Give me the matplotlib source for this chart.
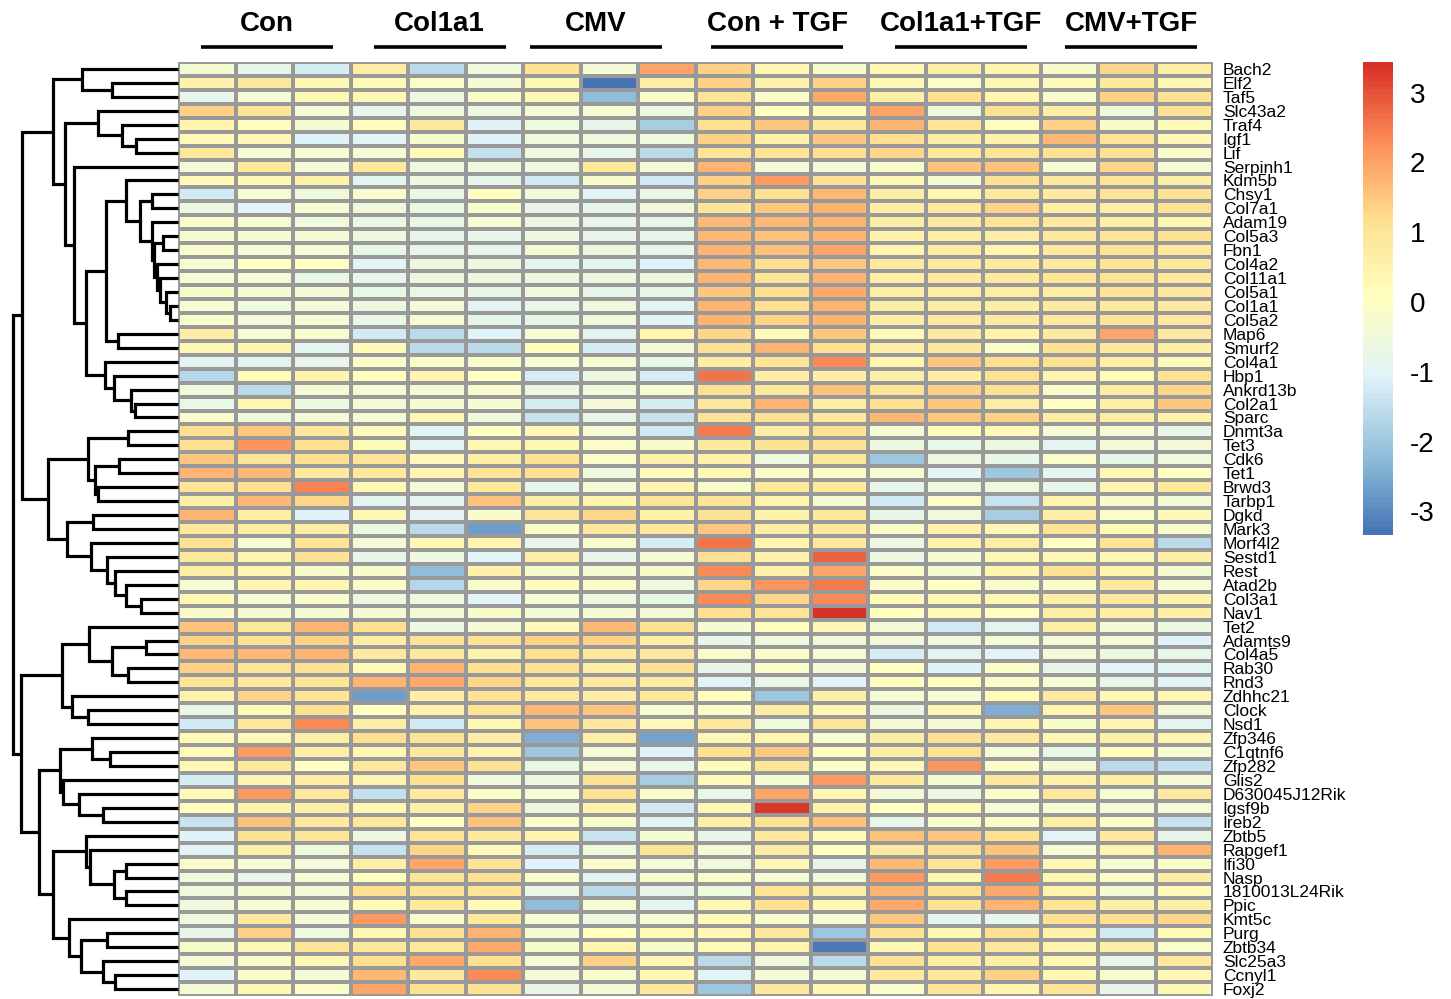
import numpy as np
import matplotlib
matplotlib.use("Agg")
import matplotlib.pyplot as plt
from matplotlib.colors import LinearSegmentedColormap

plt.rcParams['font.family'] = ['Liberation Sans', 'DejaVu Sans']
plt.rcParams['axes.unicode_minus'] = False

genes = ["Bach2", "Elf2", "Taf5", "Slc43a2", "Traf4", "Igf1", "Lif", "Serpinh1",
         "Kdm5b", "Chsy1", "Col7a1", "Adam19", "Col5a3", "Fbn1", "Col4a2", "Col11a1",
         "Col5a1", "Col1a1", "Col5a2", "Map6", "Smurf2", "Col4a1", "Hbp1", "Ankrd13b",
         "Col2a1", "Sparc", "Dnmt3a", "Tet3", "Cdk6", "Tet1", "Brwd3", "Tarbp1",
         "Dgkd", "Mark3", "Morf4l2", "Sestd1", "Rest", "Atad2b", "Col3a1", "Nav1",
         "Tet2", "Adamts9", "Col4a5", "Rab30", "Rnd3", "Zdhhc21", "Clock", "Nsd1",
         "Zfp346", "C1qtnf6", "Zfp282", "Glis2", "D630045J12Rik", "Igsf9b", "Ireb2",
         "Zbtb5", "Rapgef1", "Ifi30", "Nasp", "1810013L24Rik", "Ppic", "Kmt5c",
         "Purg", "Zbtb34", "Slc25a3", "Ccnyl1", "Foxj2"]

groups = ["Con", "Col1a1", "CMV", "Con + TGF", "Col1a1+TGF", "CMV+TGF"]

# row z-scores, three replicates per group, rows in the order of genes
con = [
    [-0.3, -0.8, -1.2], [0.5, 0.9, 0.3], [-0.8, -0.3, 0.3], [1.4, 1.0, -0.3],
    [0.4, 0.1, -0.3], [0.2, 0.3, -1.1], [0.9, -0.3, -0.3], [-0.4, 0.9, -0.4],
    [0.2, 0.3, 0.5], [-1.3, -0.3, -0.5], [-0.6, -1.0, -0.3], [-0.2, -0.3, -0.5],
    [-0.3, -0.3, -0.4], [-0.2, -0.3, -0.3], [-0.3, 0.0, 0.0], [-0.3, -0.3, -0.7],
    [-0.2, -0.4, -0.4], [-0.3, -0.5, -0.4], [-0.2, -0.4, -0.3], [0.7, -0.3, -0.2],
    [0.3, 0.4, -0.9], [-0.9, -0.9, -0.8], [-1.7, 0.2, 0.5], [-0.5, -1.6, -0.4],
    [-0.7, 0.3, -0.6], [-0.2, -0.5, -0.4], [1.2, 1.5, 0.8], [1.2, 2.2, 1.2],
    [1.5, 1.0, 1.2], [1.8, 1.7, 0.8], [1.0, 1.2, 2.4], [0.6, 1.7, 1.3],
    [1.8, 0.7, -1.1], [0.8, 0.7, 0.7], [1.1, -0.3, 1.0], [0.9, 0.4, 1.1],
    [0.6, 0.3, -0.2], [-0.3, 0.4, 0.4], [0.3, -0.3, -0.2], [-0.2, -0.3, -0.3],
    [1.6, 0.9, 1.8], [1.4, 1.1, 1.4], [1.7, 1.7, 1.8], [1.4, 1.0, 1.1],
    [1.0, 0.8, 1.0], [0.5, 1.3, 1.0], [-0.7, 0.2, 1.2], [-1.3, 0.9, 2.3],
    [0.2, 0.3, 0.6], [0.2, 2.1, 0.6], [0.3, 0.9, 0.0], [-1.2, 0.4, 0.7],
    [0.2, 2.1, 0.9], [0.1, 0.5, 0.6], [-1.4, 1.6, 0.8], [-1.1, 1.1, 1.0],
    [-1.0, 0.6, -0.5], [-0.2, -0.3, -0.4], [-0.5, -0.8, -0.3], [-0.5, -0.3, -0.4],
    [-0.5, -0.3, -0.3], [-0.5, 0.8, -0.4], [-0.8, 1.4, -0.5], [-0.2, 0.3, 1.0],
    [-0.4, -0.2, 0.3], [-1.1, -0.1, -0.4], [-0.3, 0.3, -0.1]]
col1a1 = [
    [0.7, -1.6, -0.5], [0.2, -0.1, -0.3], [0.3, -0.6, -0.1], [-0.8, -0.5, -0.6],
    [0.1, 0.8, -1.1], [-1.0, -0.2, -1.1], [-0.3, 0.2, -1.5], [0.9, -0.5, -0.5],
    [-0.9, -0.6, -0.8], [-0.2, -0.7, 0.1], [-0.5, -0.6, -0.2], [-0.7, -0.7, -0.3],
    [-0.6, -0.8, -0.8], [-0.7, -0.8, -0.8], [-1.0, -0.6, -0.6], [-0.8, -0.6, -0.6],
    [-0.7, -0.7, -0.8], [-0.6, -0.4, -0.9], [-0.7, -0.4, -0.8], [-1.3, -1.6, -1.1],
    [0.2, -1.6, -1.6], [-0.1, -0.1, -0.2], [0.1, 0.4, 0.0], [-0.3, -0.4, -0.2],
    [-0.4, -0.3, -0.3], [-0.3, 0.3, -0.5], [0.2, -1.0, 0.0], [0.2, -0.9, 0.3],
    [1.0, 0.2, 0.7], [0.9, 0.4, 1.0], [0.3, -0.4, 0.9], [-0.9, -0.9, 1.6],
    [0.3, -0.9, -0.2], [-0.6, -1.6, -2.7], [-0.4, 0.3, 0.4], [-0.8, -0.6, -1.0],
    [-0.2, -2.2, 0.5], [-0.1, -1.7, -0.2], [-0.6, -0.5, -1.0], [-0.4, -0.4, -0.2],
    [1.2, -0.6, -0.3], [0.7, 1.1, 1.1], [0.8, 0.9, 0.5], [0.2, 1.8, 1.2],
    [1.8, 1.9, 1.3], [-2.7, 0.7, 1.1], [0.0, 0.5, 1.0], [0.6, -1.3, 0.3],
    [1.2, 1.0, 0.7], [0.3, 0.9, 0.4], [0.9, 1.5, 1.1], [0.4, 1.2, -0.5],
    [-1.5, 0.8, -0.1], [0.3, 0.6, 1.4], [0.9, 0.0, 1.6], [-0.6, 1.0, 0.8],
    [-1.4, 1.3, 0.2], [0.6, 2.0, 1.1], [0.0, 1.0, 1.2], [1.2, 1.0, 1.0],
    [0.2, 0.9, 0.2], [2.1, -0.2, 0.9], [0.3, 1.1, 1.8], [0.9, 0.9, 1.9],
    [1.2, 1.9, 1.2], [1.7, 0.8, 2.3], [2.0, 1.1, 1.1]]
cmv = [
    [1.1, -0.4, 2.0], [0.3, -3.34, 0.7], [0.3, -2.2, -0.1], [-0.4, -0.3, -0.6],
    [-0.5, -0.8, -1.9], [-0.5, -0.5, -0.5], [-0.5, -0.8, -1.6], [-0.5, 0.9, -0.4],
    [-1.3, -0.2, -1.3], [-0.5, -1.0, -0.7], [-0.8, -0.8, -0.5], [-0.6, -0.8, -0.8],
    [-0.6, -0.8, -0.8], [-0.4, -0.6, -0.8], [-0.9, -0.9, -1.1], [-0.6, -0.6, -0.6],
    [-0.5, -0.8, -0.8], [-0.7, -0.5, -0.9], [-0.8, -0.5, -1.0], [-0.3, -0.9, 0.4],
    [0.1, -1.2, -0.4], [-0.3, -0.3, -0.7], [-1.2, -0.6, -1.2], [-0.6, -0.5, -0.3],
    [-1.2, -0.4, -1.2], [-1.4, -0.8, -1.4], [0.3, -0.3, -1.3], [0.3, -0.1, -0.2],
    [1.1, -0.1, 0.5], [1.2, -0.5, 0.1], [-0.8, -0.4, 0.4], [0.6, 0.4, 1.0],
    [1.0, 1.3, 0.5], [-0.1, 0.9, 0.8], [-0.8, -0.2, -1.2], [0.7, -0.8, -0.3],
    [-0.2, -0.3, -0.2], [0.1, -0.1, -0.5], [-0.3, -0.6, -0.7], [-0.4, -0.4, -0.4],
    [0.2, 1.7, 1.1], [1.4, 1.4, 0.6], [1.2, 0.9, 0.9], [1.1, 0.6, 1.1],
    [0.9, 0.8, 0.7], [0.8, 0.7, 0.9], [1.7, 1.5, -0.3], [1.6, 0.8, 0.2],
    [-2.4, 0.6, -2.6], [-2.0, -0.4, -1.1], [-0.7, -0.4, -0.8], [-0.6, 1.1, -1.9],
    [-0.3, 1.1, -0.2], [-0.6, 0.5, -1.3], [-0.1, -0.2, -0.9], [0.4, -1.4, -0.3],
    [-1.2, -0.5, 1.0], [-1.1, -0.2, -0.4], [-0.2, -0.9, -0.2], [-0.7, -1.6, -0.8],
    [-2.2, -0.3, -0.9], [-0.3, -0.6, -0.3], [-0.3, 0.0, 0.2], [-0.2, 0.4, -0.2],
    [-0.3, 1.4, 0.3], [-0.4, -0.2, 0.3], [-0.8, -0.4, 0.8]]
con_tgf = [
    [1.4, 0.3, -0.2], [1.4, 0.5, 1.4], [1.0, -0.1, 1.9], [1.4, 0.0, 0.2],
    [1.2, 1.5, 0.9], [1.4, 0.5, 1.5], [1.0, 1.0, 1.2], [1.8, -0.4, -0.4],
    [1.4, 2.1, 1.1], [1.4, 1.2, 1.7], [1.0, 1.5, 1.8], [1.7, 1.7, 1.8],
    [1.7, 1.6, 1.8], [1.8, 1.6, 2.0], [1.7, 1.2, 1.5], [1.8, 1.0, 1.8],
    [1.5, 1.2, 1.9], [1.8, 1.2, 1.8], [1.8, 1.4, 1.8], [1.3, 0.2, 1.5],
    [1.1, 1.8, 1.2], [0.7, 1.0, 2.3], [2.6, 0.7, 0.7], [1.1, 0.9, 1.6],
    [0.8, 1.8, 0.7], [1.0, 1.1, 0.8], [2.5, 0.7, 1.1], [0.8, 1.1, 1.1],
    [0.5, -0.5, 0.9], [0.3, -0.1, -0.1], [-0.2, 0.9, 0.9], [1.0, 0.4, -0.3],
    [1.1, 0.5, 0.9], [1.5, 0.7, 0.8], [2.6, 0.4, 0.9], [1.1, 0.5, 2.8],
    [2.3, 0.5, 2.0], [1.3, 2.2, 2.5], [2.3, 1.3, 2.3], [1.2, 1.0, 3.44],
    [-0.3, 0.1, 0.3], [-0.8, -0.5, -0.5], [-0.2, -0.1, -0.3], [-0.8, -0.1, -0.4],
    [-1.0, -0.8, -1.0], [0.1, -2.0, 0.6], [-0.1, 0.7, 0.3], [0.9, -0.5, 1.0],
    [0.3, 0.4, -0.2], [1.2, 1.5, 0.1], [0.2, 1.0, -0.1], [0.2, -0.3, 2.1],
    [-0.8, 2.0, 0.3], [0.3, 3.35, 0.5], [0.6, 1.1, 1.6], [-0.8, 0.8, 0.2],
    [-0.4, 0.7, 0.0], [-0.5, 0.3, -0.8], [-0.1, -0.3, -0.5], [-0.5, 1.0, 0.7],
    [0.3, 1.2, 0.3], [0.2, -0.2, -0.3], [0.3, 0.8, -2.0], [0.2, 0.4, -3.25],
    [-1.6, -0.5, -1.6], [-1.0, -0.4, -0.4], [-2.0, 0.8, 0.3]]
col1a1_tgf = [
    [0.3, 0.6, 0.4], [0.3, -0.1, 0.3], [0.6, 1.2, 0.4], [2.0, -0.5, 1.1],
    [1.8, 1.0, 0.1], [1.2, 0.7, 0.5], [1.3, 0.9, 1.0], [-0.2, 1.6, 1.6],
    [0.3, -0.3, 1.1], [0.7, 0.4, 0.9], [0.7, 0.8, 1.4], [0.7, 0.8, 1.0],
    [0.5, 0.6, 0.7], [0.4, 0.7, 0.4], [0.8, 0.8, 0.8], [0.6, 0.8, 0.8],
    [0.7, 0.7, 0.7], [0.7, 0.7, 0.7], [0.7, 0.8, 0.8], [0.2, 0.8, 0.5],
    [0.7, 0.8, -0.1], [0.4, 1.5, 1.2], [0.6, 0.7, 1.1], [1.0, 1.4, 1.1],
    [1.2, 1.5, 0.7], [1.7, 1.5, 1.4], [-0.3, 0.1, 0.2], [-0.6, -0.7, -0.6],
    [-2.0, -0.6, -0.8], [-0.3, -1.0, -2.0], [-0.8, -0.5, -0.5], [-1.3, -0.1, -1.4],
    [-0.8, -0.5, -1.9], [-0.1, 0.5, 0.3], [-0.6, 0.5, 0.7], [-0.6, -0.3, 0.3],
    [-0.1, -0.3, 0.4], [-0.1, 0.0, -0.2], [0.2, 0.3, 0.3], [0.0, 0.2, 0.0],
    [-0.4, -1.3, -0.9], [-0.5, -0.5, -0.4], [-1.2, -0.9, -1.0], [0.0, -1.1, -0.1],
    [0.1, 0.0, -0.1], [-0.3, -0.3, 0.2], [-0.6, 0.3, -2.4], [-0.4, -0.4, 0.4],
    [0.7, 1.1, 0.8], [0.7, 1.1, -0.4], [0.3, 2.2, -0.1], [0.8, -0.3, 0.8],
    [-0.4, -0.6, -0.1], [0.0, 0.2, -0.4], [-0.8, -0.2, -0.1], [1.6, 1.5, 1.2],
    [0.8, 1.1, 1.6], [1.7, 1.0, 2.1], [2.1, 0.3, 2.5], [1.8, 1.1, 1.9],
    [1.9, 1.1, 1.8], [1.5, -0.9, -0.8], [1.1, 0.3, 1.2], [0.3, 1.1, 0.9],
    [1.1, 0.6, 0.6], [0.8, 0.9, 1.4], [-0.1, 1.0, 0.4]]
cmv_tgf = [
    [-0.2, 1.3, 0.7], [0.2, 0.8, 0.3], [-0.2, 1.4, 1.1], [0.6, -0.5, 1.1],
    [1.4, -0.2, 0.2], [1.7, 1.0, 0.3], [1.1, 1.1, -0.1], [-0.3, 1.3, -0.3],
    [0.8, 1.0, 0.6], [0.8, 1.0, 1.1], [0.6, 0.6, 1.1], [0.9, 0.6, 0.3],
    [0.9, 1.0, 1.1], [0.8, 1.0, 0.8], [0.8, 1.0, 0.9], [1.0, 1.0, 0.8],
    [0.7, 1.0, 0.8], [0.8, 0.8, 0.8], [0.8, 1.0, 0.8], [0.8, 2.0, 0.8],
    [1.1, 0.8, 0.6], [1.1, 0.6, 0.2], [0.4, 0.2, 1.1], [-0.1, 0.7, 1.3],
    [0.0, 0.6, 1.5], [0.7, 0.7, 0.5], [-0.3, -0.3, -0.7], [-0.9, -0.4, -0.4],
    [-0.1, -0.8, -0.5], [-0.9, 0.3, 0.0], [-0.8, 0.4, 0.9], [0.4, -0.2, -0.4],
    [0.6, -0.1, 0.3], [1.0, 0.2, -0.2], [0.0, 1.0, -1.6], [0.3, 0.3, 0.6],
    [1.1, 0.4, -0.3], [-0.1, 0.8, -0.3], [0.6, 0.8, 0.5], [0.6, 0.7, 0.6],
    [0.6, -0.4, -0.6], [-0.4, -0.4, -1.1], [-0.4, -0.6, -0.8], [-0.8, -1.0, -0.9],
    [-0.3, -0.8, -1.0], [0.8, 0.3, 0.3], [0.4, 1.5, -0.4], [-0.2, 0.4, -0.9],
    [0.3, 0.6, 0.4], [-0.7, 0.1, -0.3], [-0.4, -1.6, -1.5], [0.5, 0.6, -0.3],
    [0.9, -0.3, 0.8], [-0.3, -0.4, -0.4], [0.6, -0.1, -1.4], [-1.0, 0.8, -0.8],
    [-0.3, 0.4, 1.8], [0.3, -0.3, -0.1], [0.3, -0.1, 0.7], [0.4, -0.3, 0.2],
    [1.0, 0.6, 0.6], [1.2, 1.2, 1.3], [0.5, -1.3, 0.2], [0.4, 0.6, -0.1],
    [0.3, -0.8, 0.8], [0.3, -0.2, 0.3], [1.0, -0.8, 0.3]]

# row clustering: (merge height, left, right); ints are row indices
top_a = (96, 0, (66, 1, 2))
top_b = (80, 3, (56, 4, (42, 5, 6)))
collagens = (26, 11, (24, (15, 12, 13), (21, 14, (18, 15, (12, 16, (8, 17, 18))))))
kdm = (52, 8, (38, (26, 9, 10), collagens))
node_c = (72, kdm, (60, 19, 20))
node_d = (73, 21, (64, 22, (47, 23, (43, 24, 25))))
top_c = (104, 7, (92, node_c, node_d))
upper_top = (125, top_a, (113, top_b, top_c))
mid_a = (90, (50, 26, 27), (83, (59, 28, 29), (80, 30, 31)))
mid_b = (111, (85, 32, 33), (87, 34, (71, 35, (63, 36, (52, 37, (37, 38, 39))))))
upper = (156, upper_top, (130, mid_a, mid_b))
low_a = (116, (89, 40, (66, (32, 41, 42), (50, 43, 44))), (106, 45, (90, 46, 47)))
low_b = (118, (86, 48, (68, 49, 50)), (115, 51, (99, 52, (75, 53, 54))))
low_c = (125, (92, 55, (88, 56, (64, (52, 57, 58), (52, 59, 60)))),
         (109, 61, (97, (71, 62, 63), (75, 64, (63, 65, 66)))))
lower = (157, low_a, (139, low_b, low_c))
row_tree = (165, upper, lower)

data = np.hstack([np.array(g) for g in (con, col1a1, cmv, con_tgf, col1a1_tgf, cmv_tgf)])
n_rows, n_cols = data.shape

palette = ["#4575B4", "#91BFDB", "#E0F3F8", "#FFFFBF", "#FEE090", "#FC8D59", "#D73027"]
cmap = LinearSegmentedColormap.from_list("rdylbu_r", palette, N=100)

W, H = 1451, 999
fig = plt.figure(figsize=(W / 100, H / 100), dpi=100)

hm_left, hm_right, hm_top, hm_bottom = 178, 1213, 62, 996
ax = fig.add_axes([hm_left / W, 1 - hm_bottom / H, (hm_right - hm_left) / W, (hm_bottom - hm_top) / H])
mesh = ax.pcolormesh(np.arange(n_cols + 1), np.arange(n_rows + 1), data, cmap=cmap,
                     vmin=data.min(), vmax=data.max(), edgecolors="#999999", linewidth=1.6)
ax.set_xlim(0, n_cols)
ax.set_ylim(n_rows, 0)
for s in ax.spines.values():
    s.set_visible(False)
ax.set_xticks([])
ax.yaxis.tick_right()
ax.set_yticks(np.arange(n_rows) + 0.5)
ax.set_yticklabels(genes, fontsize=12.5)
ax.tick_params(axis="y", length=0, pad=7)

# group headers with underline bars
header_shift = [0.05, 0.05, -0.23, -0.08, 0.12, 0.08]
for gi, name in enumerate(groups):
    cx = gi * 3 + 1.5 + header_shift[gi]
    ax.text(cx, 1.041, name, transform=ax.get_xaxis_transform(), ha="center", va="center",
            fontsize=20, fontweight="bold", clip_on=False)
    ax.plot([cx - 1.15, cx + 1.15], [1.016, 1.016], transform=ax.get_xaxis_transform(),
            color="black", lw=2.6, solid_capstyle="butt", clip_on=False)

# row dendrogram
dax = fig.add_axes([0, 1 - hm_bottom / H, hm_left / W, (hm_bottom - hm_top) / H])
dax.set_xlim(178, 0)
dax.set_ylim(n_rows, 0)
dax.axis("off")


def draw(node):
    if isinstance(node, int):
        return node + 0.5, 0
    h, left, right = node
    y1, h1 = draw(left)
    y2, h2 = draw(right)
    dax.plot([h1, h, h, h2], [y1, y1, y2, y2], color="black", lw=2.3,
             solid_joinstyle="miter", solid_capstyle="butt", clip_on=False)
    return (y1 + y2) / 2, h


draw(row_tree)

# colour key
cax = fig.add_axes([1363 / W, 1 - 535 / H, 30 / W, 473 / H])
cbar = fig.colorbar(mesh, cax=cax, ticks=np.arange(-3, 4))
cbar.outline.set_visible(False)
cax.tick_params(length=0, labelsize=20, pad=12)

fig.savefig("out.png", dpi=100)
